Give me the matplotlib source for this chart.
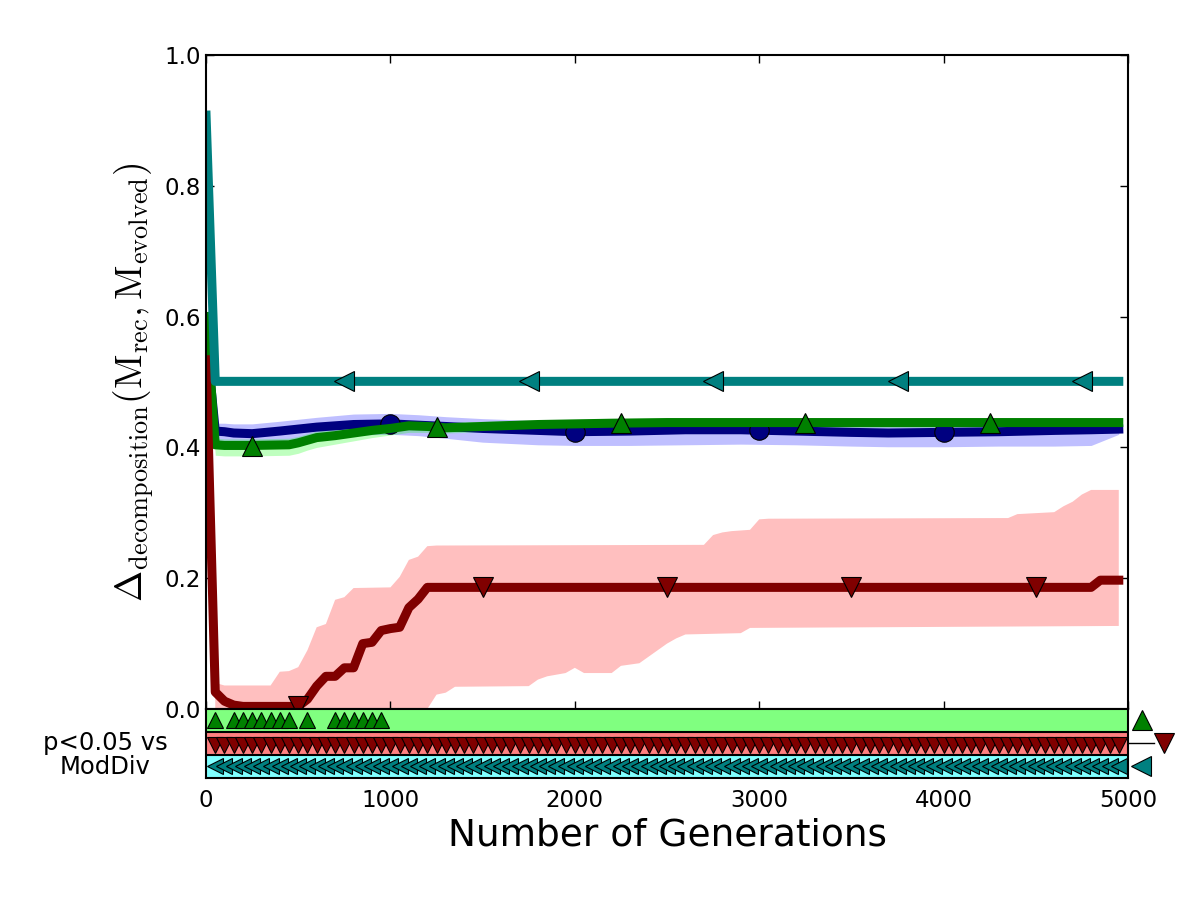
import matplotlib
matplotlib.use("Agg")
import matplotlib.pyplot as plt

plt.rcParams['mathtext.fontset'] = 'cm'
plt.rcParams['font.family'] = ['DejaVu Sans']

# ---- ModDiv-like reference (teal, left triangles) ----
teal_x = [0, 50, 4950]
teal_y = [0.908, 0.501, 0.501]
teal_mx = [750, 1750, 2750, 3750, 4750]
teal_my = [0.501, 0.501, 0.501, 0.501, 0.501]

# ---- navy, circles ----
navy_x = [0, 50, 100, 150, 250, 400, 600, 800, 1000, 1150, 1300, 1500, 1800, 2000,
          2300, 2600, 2900, 3200, 3500, 3700, 4000, 4300, 4600, 4800, 4950]
navy_y = [0.57, 0.425, 0.424, 0.422, 0.421, 0.425, 0.431, 0.435, 0.436, 0.434, 0.432, 0.429,
          0.426, 0.424, 0.425, 0.427, 0.427, 0.425, 0.423, 0.422, 0.423, 0.424, 0.426, 0.427, 0.428]
navy_hi = [0.58, 0.437, 0.437, 0.436, 0.436, 0.440, 0.446, 0.451, 0.452, 0.450, 0.447, 0.444,
           0.441, 0.440, 0.440, 0.441, 0.441, 0.440, 0.439, 0.439, 0.440, 0.441, 0.442, 0.443, 0.444]
navy_lo = [0.56, 0.410, 0.408, 0.406, 0.405, 0.410, 0.416, 0.419, 0.420, 0.418, 0.414, 0.408,
           0.404, 0.403, 0.403, 0.404, 0.405, 0.404, 0.402, 0.401, 0.401, 0.402, 0.402, 0.403, 0.420]
navy_mx = [1000, 2000, 3000, 4000]
navy_my = [0.436, 0.423, 0.426, 0.423]

# ---- green, up triangles ----
green_x = [0, 50, 100, 250, 450, 500, 550, 600, 700, 800, 900, 1000, 1100, 1200, 1300,
           1500, 1800, 2200, 2500, 3000, 4000, 4950]
green_y = [0.60, 0.404, 0.403, 0.403, 0.404, 0.407, 0.411, 0.415, 0.418, 0.422, 0.426, 0.429,
           0.433, 0.432, 0.430, 0.432, 0.435, 0.437, 0.438, 0.438, 0.438, 0.438]
green_hi = [0.61, 0.414, 0.413, 0.413, 0.414, 0.417, 0.421, 0.425, 0.428, 0.432, 0.435, 0.438,
            0.441, 0.440, 0.438, 0.440, 0.442, 0.444, 0.445, 0.445, 0.445, 0.445]
green_lo = [0.59, 0.388, 0.387, 0.387, 0.388, 0.391, 0.396, 0.400, 0.405, 0.410, 0.415, 0.419,
            0.423, 0.423, 0.422, 0.424, 0.428, 0.430, 0.431, 0.431, 0.431, 0.431]
green_mx = [250, 1250, 2250, 3250, 4250]
green_my = [0.402, 0.431, 0.438, 0.438, 0.438]

# ---- dark red, down triangles ----
red_x = [0, 50, 100, 150, 200, 500, 550, 600, 650, 700, 750, 800, 850, 900, 950, 1000,
         1050, 1100, 1150, 1200, 4800, 4850, 4950]
red_y = [0.534, 0.026, 0.012, 0.006, 0.004, 0.004, 0.015, 0.035, 0.05, 0.05, 0.063, 0.063,
         0.1, 0.102, 0.12, 0.123, 0.125, 0.155, 0.168, 0.186, 0.186, 0.197, 0.197]
red_mx = [500, 1500, 2500, 3500, 4500]
red_my = [0.004, 0.186, 0.186, 0.186, 0.186]

red_hi_x = [50, 100, 350, 400, 450, 500, 550, 600, 650, 700, 750, 800, 1000, 1050, 1100,
            1150, 1200, 1250, 2700, 2750, 2800, 2850, 2950, 3000, 3050, 4350, 4400, 4600,
            4650, 4700, 4750, 4800, 4850, 4950]
red_hi = [0.04, 0.036, 0.036, 0.057, 0.058, 0.064, 0.09, 0.125, 0.13, 0.167, 0.171, 0.185,
          0.186, 0.202, 0.228, 0.233, 0.249, 0.25, 0.251, 0.266, 0.27, 0.272, 0.274, 0.29,
          0.291, 0.292, 0.298, 0.301, 0.31, 0.317, 0.328, 0.335, 0.335, 0.335]
red_lo_x = [50, 1200, 1250, 1300, 1350, 1750, 1800, 1850, 1950, 2000, 2050, 2200, 2250,
            2350, 2400, 2450, 2500, 2550, 2600, 2900, 2950, 4950]
red_lo = [0.0, 0.0, 0.022, 0.025, 0.034, 0.035, 0.045, 0.05, 0.055, 0.063, 0.055, 0.055,
          0.066, 0.07, 0.08, 0.09, 0.1, 0.108, 0.114, 0.116, 0.124, 0.127]

# ---- significance vs ModDiv (generations where p<0.05) ----
sig_green = [50, 150, 200, 250, 300, 350, 400, 450, 550, 700, 750, 800, 850, 900, 950]
sig_red = list(range(50, 5000, 50))
sig_teal = list(range(50, 5000, 50))

fig = plt.figure(figsize=(12, 9), dpi=100)
ax = fig.add_axes([0.1717, 0.2122, 0.7683, 0.7267])
bx = fig.add_axes([0.1717, 0.1356, 0.7683, 0.0767], sharex=ax)

# shaded spread
ax.fill_between(navy_x, navy_lo, navy_hi, color='#0000ff', alpha=0.25, lw=0)
ax.fill_between(green_x, green_lo, green_hi, color='#00ff00', alpha=0.25, lw=0)
ax.fill(red_hi_x + red_lo_x[::-1], red_hi + red_lo[::-1], color='#ff0000', alpha=0.25, lw=0)

lw = 6.5
ms = 15
ax.plot(navy_x, navy_y, color='#000080', lw=lw)
ax.plot(navy_mx, navy_my, 'o', color='#000080', ms=14, mec='k', mew=0.8, ls='none')
ax.plot(green_x, green_y, color='#008000', lw=lw)
ax.plot(green_mx, green_my, '^', color='#008000', ms=ms, mec='k', mew=0.8, ls='none')
ax.plot(red_x, red_y, color='#800000', lw=lw)
ax.plot(red_mx, red_my, 'v', color='#800000', ms=ms, mec='k', mew=0.8, ls='none')
ax.plot(teal_x, teal_y, color='#008080', lw=lw)
ax.plot(teal_mx, teal_my, '<', color='#008080', ms=ms, mec='k', mew=0.8, ls='none')

ax.set_xlim(0, 5000)
ax.set_ylim(0, 1.0)
ax.set_yticks([0.0, 0.2, 0.4, 0.6, 0.8, 1.0])
ax.set_yticklabels(['0.0', '0.2', '0.4', '0.6', '0.8', '1.0'])
ax.set_xticks([0, 1000, 2000, 3000, 4000, 5000])
ax.tick_params(direction='in', length=6, width=1, top=True, right=True,
               labelbottom=False, labelsize=16.5)
ax.set_ylabel(r'$\Delta_{\rm decomposition}(\rm M_{rec}, M_{evolved})$', fontsize=27, labelpad=6)

# significance strip
bx.axhspan(2, 3, color='#80ff80', lw=0)
bx.axhspan(1, 2, color='#ff8080', lw=0)
bx.axhspan(0, 1, color='#80ffff', lw=0)
bx.axhline(2, color='k', lw=1.5)
bx.axhline(1, color='k', lw=1.5)
bx.plot(sig_green, [2.5] * len(sig_green), '^', color='#008000', ms=11, mec='k', mew=0.8, ls='none')
bx.plot(sig_red, [1.45] * len(sig_red), 'v', color='#800000', ms=11, mec='k', mew=0.8, ls='none')
bx.plot(sig_teal, [0.5] * len(sig_teal), '<', color='#008080', ms=11, mec='k', mew=0.8, ls='none')

# key markers on the right
bx.plot([5000, 5140], [1.5, 1.5], color='k', lw=1, clip_on=False)
bx.plot([5076], [2.5], '^', color='#008000', ms=ms, mec='k', mew=0.8, clip_on=False)
bx.plot([5195], [1.5], 'v', color='#800000', ms=ms, mec='k', mew=0.8, clip_on=False)
bx.plot([5070], [0.5], '<', color='#008080', ms=ms, mec='k', mew=0.8, clip_on=False)

bx.set_ylim(0, 3)
bx.set_yticks([])
bx.tick_params(axis='x', length=0, labelsize=16.5, pad=8)
bx.set_xlabel('Number of Generations', fontsize=27)

for a in (ax, bx):
    for s in a.spines.values():
        s.set_linewidth(1.5)

fig.text(105 / 1200, 1 - 755 / 900, 'p<0.05 vs\nModDiv', ha='center', va='center',
         fontsize=17.5, linespacing=1.0)

fig.savefig('out.png', dpi=100)
